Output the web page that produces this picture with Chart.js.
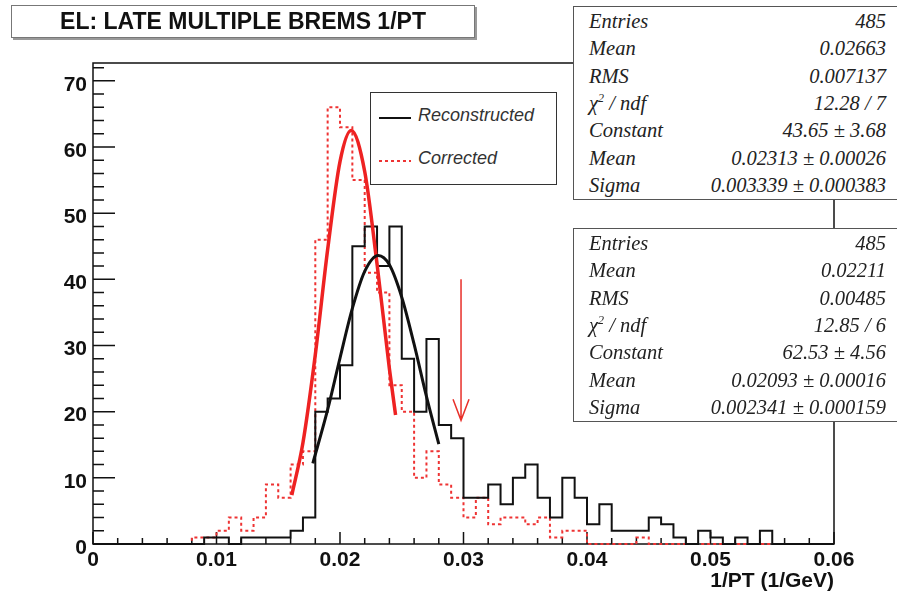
<!DOCTYPE html>
<html lang="en">
<head>
<meta charset="UTF-8">
<title>EL: LATE MULTIPLE BREMS 1/PT</title>
<script src="https://cdn.jsdelivr.net/npm/chart.js"></script>
<style>
    body { margin: 0; background: #fff; }
    #wrap { position: relative; width: 897px; height: 598px; overflow: hidden; }
    #histChart { position: absolute; left: 0; top: 0; }
    .pave { position: absolute; background: #fff; box-sizing: border-box; }
    #titleBox {
        left: 11px; top: 5px; width: 464px; height: 33px;
        border: 1px solid #777; box-shadow: 2px 2px 0 #999;
        font: bold 23px 'Liberation Sans', Arial, sans-serif;
        text-align: center; line-height: 31px; color: #111;
    }
    #legendBox { left: 370px; top: 92px; width: 187px; height: 93px; border: 1.5px solid #333; }
    #legendBox svg { position: absolute; left: 8px; }
    #legendBox .lab {
        position: absolute; left: 47px; height: 24px; line-height: 24px;
        font: italic 18px 'Liberation Sans', Arial, sans-serif; color: #333;
    }
    .stats {
        left: 573px; width: 340px; height: 194px; border: 1.5px solid #555;
        font: italic 20.5px 'Liberation Serif', 'Times New Roman', serif; color: #222;
    }
    .stats .row { position: absolute; left: 15px; width: 297px; height: 26px; line-height: 26px; }
    .stats .row .v { position: absolute; right: 0; top: 0; }
    .stats sup { font-size: 12px; vertical-align: 8px; line-height: 0; }
</style>
</head>
<body>
<div id="wrap">
    <canvas id="histChart" width="897" height="598"></canvas>
    <div id="titleBox" class="pave">EL: LATE MULTIPLE BREMS 1/PT</div>
    <div id="legendBox" class="pave">
        <svg width="34" height="6" style="top:22px"><line x1="0" y1="3" x2="32" y2="3" stroke="#111" stroke-width="2"/></svg>
        <div class="lab" style="top:12px">Reconstructed</div>
        <svg width="34" height="6" style="top:65px"><line x1="0" y1="3" x2="32" y2="3" stroke="#e33" stroke-width="2" stroke-dasharray="3 3"/></svg>
        <div class="lab" style="top:55px">Corrected</div>
    </div>
    <div id="statsReco" class="pave stats" style="top:6px"></div>
    <div id="statsCorr" class="pave stats" style="top:228px"></div>
</div>

<script>
    // histogram binning: 60 bins of 0.001 from 0 to 0.06
    const X_MIN = 0;
    const X_MAX = 0.06;
    const BIN_WIDTH = 0.001;

    // bin contents
    const reconstructed = [
        0, 0, 0, 0, 0, 0, 0, 0, 0, 1,
        1, 0, 1, 1, 1, 1, 2, 4, 20, 22,
        27, 45, 48, 42, 48, 28, 20, 31, 18, 16,
        7, 7, 9, 6, 10, 12, 7, 4, 10, 7,
        3, 6, 2, 2, 2, 4, 3, 1, 0, 2,
        1, 0, 1, 0, 2, 0, 0, 0, 0, 0
    ];
    const corrected = [
        0, 0, 0, 0, 0, 0, 0, 0, 1, 1,
        2, 4, 2, 4, 9, 7, 12, 14, 46, 66,
        63, 55, 41, 38, 24, 20, 10, 14, 9, 7,
        4, 7, 3, 4, 4, 3, 4, 1, 2, 2,
        0, 0, 0, 0, 1, 0, 0, 0, 0, 0,
        0, 0, 0, 0, 0, 0, 0, 0, 0, 0
    ];

    // gaussian fit curves
    const fitRecoX = [0.0178, 0.019, 0.020, 0.021, 0.022, 0.0231, 0.024, 0.025, 0.026, 0.027, 0.028];
    const fitRecoY = [12.2, 20.3, 28.1, 35.6, 41.2, 43.6, 42.2, 37.3, 30.2, 22.3, 15.1];
    const fitCorrX = [0.0161, 0.017, 0.018, 0.019, 0.020, 0.0209, 0.022, 0.023, 0.024, 0.0245];
    const fitCorrY = [7.4, 15.3, 28.6, 44.5, 57.8, 62.5, 56.3, 42.3, 26.5, 19.5];

    // cut arrow
    const arrowX = 0.0298;
    const arrowFrom = 40;
    const arrowTo = 18.7;

    // stats boxes
    const statsReco = [
        ['Entries', '485'],
        ['Mean', '0.02663'],
        ['RMS', '0.007137'],
        ['χ<sup>2</sup> / ndf', '12.28 / 7'],
        ['Constant', '43.65 ± 3.68'],
        ['Mean', '0.02313 ± 0.00026'],
        ['Sigma', '0.003339 ± 0.000383']
    ];
    const statsCorr = [
        ['Entries', '485'],
        ['Mean', '0.02211'],
        ['RMS', '0.00485'],
        ['χ<sup>2</sup> / ndf', '12.85 / 6'],
        ['Constant', '62.53 ± 4.56'],
        ['Mean', '0.02093 ± 0.00016'],
        ['Sigma', '0.002341 ± 0.000159']
    ];

    const Y_MAX = 72.7;

    function fillStats(id, rows) {
        const box = document.getElementById(id);
        rows.forEach((r, i) => {
            const row = document.createElement('div');
            row.className = 'row';
            row.style.top = (1 + i * 27.3) + 'px';
            row.innerHTML = '<span>' + r[0] + '</span><span class="v">' + r[1] + '</span>';
            box.appendChild(row);
        });
    }
    fillStats('statsReco', statsReco);
    fillStats('statsCorr', statsCorr);

    // step points: left edge of each bin, plus the right edge of the last one
    function toSteps(counts) {
        const pts = counts.map((c, i) => ({ x: X_MIN + i * BIN_WIDTH, y: c }));
        pts.push({ x: X_MAX, y: counts[counts.length - 1] });
        return pts;
    }
    function toPoints(xs, ys) {
        return xs.map((x, i) => ({ x: x, y: ys[i] }));
    }

    // ROOT-like frame with inside ticks, and the arrow
    const frameTicks = {
        id: 'frameTicks',
        beforeDatasetsDraw(chart) {
            const { ctx, chartArea: a, scales: { x, y } } = chart;
            ctx.save();
            ctx.strokeStyle = '#111';
            ctx.lineWidth = 1.5;
            ctx.strokeRect(a.left, a.top, a.right - a.left, a.bottom - a.top);
            ctx.beginPath();
            const nx = Math.round((X_MAX - X_MIN) / 0.002);
            for (let i = 0; i <= nx; i++) {
                const px = x.getPixelForValue(X_MIN + i * 0.002);
                const len = i % 5 === 0 ? 12 : 6;
                ctx.moveTo(px, a.bottom);
                ctx.lineTo(px, a.bottom - len);
            }
            for (let v = 0; v <= Y_MAX; v += 2) {
                const py = y.getPixelForValue(v);
                const len = v % 10 === 0 ? 22 : 11;
                ctx.moveTo(a.left, py);
                ctx.lineTo(a.left + len, py);
            }
            ctx.stroke();
            ctx.restore();
        },
        afterDatasetsDraw(chart) {
            const { ctx, scales: { x, y } } = chart;
            const ax = x.getPixelForValue(arrowX);
            const y1 = y.getPixelForValue(arrowFrom);
            const y2 = y.getPixelForValue(arrowTo);
            ctx.save();
            ctx.strokeStyle = '#e8302a';
            ctx.lineWidth = 1.5;
            ctx.beginPath();
            ctx.moveTo(ax, y1);
            ctx.lineTo(ax, y2);
            ctx.moveTo(ax - 8, y2 - 21);
            ctx.lineTo(ax, y2);
            ctx.lineTo(ax + 8, y2 - 21);
            ctx.stroke();
            ctx.restore();
        }
    };

    const tickFont = { family: "'Liberation Sans', Arial, sans-serif", size: 21, weight: 'bold' };

    new Chart(document.getElementById('histChart'), {
        type: 'line',
        data: {
            datasets: [
                {
                    label: 'Reconstructed fit',
                    data: toPoints(fitRecoX, fitRecoY),
                    borderColor: '#111',
                    borderWidth: 3,
                    cubicInterpolationMode: 'monotone',
                    pointRadius: 0,
                    order: 1
                },
                {
                    label: 'Corrected fit',
                    data: toPoints(fitCorrX, fitCorrY),
                    borderColor: '#ee2222',
                    borderWidth: 3.5,
                    cubicInterpolationMode: 'monotone',
                    pointRadius: 0,
                    order: 2
                },
                {
                    label: 'Reconstructed',
                    data: toSteps(reconstructed),
                    borderColor: '#111',
                    borderWidth: 2,
                    stepped: true,
                    pointRadius: 0,
                    clip: false,
                    order: 3
                },
                {
                    label: 'Corrected',
                    data: toSteps(corrected),
                    borderColor: '#e33',
                    borderWidth: 2,
                    borderDash: [3, 3],
                    stepped: true,
                    pointRadius: 0,
                    clip: false,
                    order: 4
                }
            ]
        },
        options: {
            responsive: false,
            animation: false,
            events: [],
            layout: { padding: { left: 0, top: 63, right: 63, bottom: 0 } },
            plugins: {
                legend: { display: false },
                tooltip: { enabled: false },
                title: { display: false }
            },
            scales: {
                x: {
                    type: 'linear',
                    min: X_MIN,
                    max: X_MAX,
                    grid: { display: false, drawTicks: false },
                    border: { display: false },
                    ticks: {
                        stepSize: 0.01,
                        padding: 4,
                        color: '#111',
                        font: tickFont,
                        maxRotation: 0,
                        callback: v => (v === 0 ? '0' : v.toFixed(2))
                    },
                    title: {
                        display: true,
                        text: '1/PT (1/GeV)',
                        align: 'end',
                        color: '#111',
                        font: { family: "'Liberation Sans', Arial, sans-serif", size: 21, weight: 'bold' },
                        padding: { top: 0, bottom: 4 }
                    },
                    afterFit: s => { s.height = 54; }
                },
                y: {
                    min: 0,
                    max: Y_MAX,
                    grid: { display: false, drawTicks: false },
                    border: { display: false },
                    ticks: {
                        stepSize: 10,
                        includeBounds: false,
                        padding: 6,
                        labelOffset: 4,
                        color: '#111',
                        font: tickFont
                    },
                    afterFit: s => { s.width = 93; }
                }
            }
        },
        plugins: [frameTicks]
    });
</script>
</body>
</html>
